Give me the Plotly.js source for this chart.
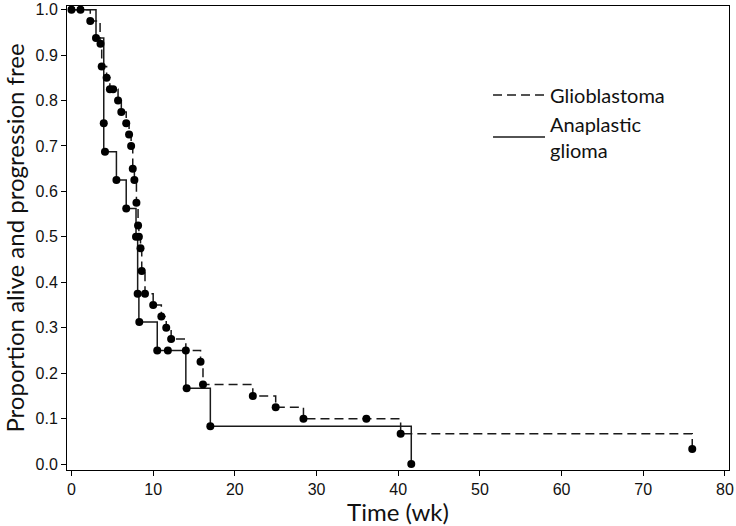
<!DOCTYPE html>
<html>
<head>
<meta charset="utf-8">
<script src="https://cdn.plot.ly/plotly-3.0.1.min.js"></script>
<style>html,body{margin:0;padding:0;background:#fff;}#chart{width:736px;height:526px;}</style>
</head>
<body>
<div id="chart"></div>
<script>
// Glioblastoma Kaplan-Meier step curve (weeks, proportion)
var glioStepT = [0, 2.3, 3.5, 3.7, 4.3, 4.7, 5.7, 6.1, 6.7, 7.05, 7.3, 7.5, 7.7, 7.95, 8.15, 8.25, 8.45, 8.6, 9.0, 10.0, 11.0, 11.6, 12.2, 14.0, 15.8, 16.1, 22.2, 25.0, 28.4, 40.3, 76.0];
var glioStepS = [1.0, 0.975, 0.925, 0.875, 0.85, 0.825, 0.80, 0.775, 0.75, 0.725, 0.70, 0.65, 0.625, 0.575, 0.525, 0.50, 0.475, 0.425, 0.375, 0.35, 0.325, 0.30, 0.275, 0.25, 0.225, 0.175, 0.15, 0.125, 0.10, 0.0667, 0.0333];
// Glioblastoma dots
var glioDotT = [0, 1.1, 2.3, 3.55, 3.7, 4.3, 4.7, 5.1, 5.7, 6.1, 6.7, 7.05, 7.3, 7.5, 7.7, 7.95, 8.15, 8.25, 8.45, 8.6, 9.0, 10.0, 11.0, 11.6, 12.2, 14.0, 15.8, 16.1, 22.2, 25.0, 28.4, 36.1, 40.3, 76.0];
var glioDotS = [1.0, 1.0, 0.975, 0.925, 0.875, 0.85, 0.825, 0.825, 0.80, 0.775, 0.75, 0.725, 0.70, 0.65, 0.625, 0.575, 0.525, 0.50, 0.475, 0.425, 0.375, 0.35, 0.325, 0.30, 0.275, 0.25, 0.225, 0.175, 0.15, 0.125, 0.10, 0.10, 0.0667, 0.0333];
// Anaplastic glioma Kaplan-Meier step curve
var anaStepT = [0, 3.0, 3.95, 5.5, 6.7, 7.9, 8.1, 8.25, 10.5, 14.0, 17.0, 41.6];
var anaStepS = [1.0, 0.9375, 0.6875, 0.625, 0.5625, 0.5, 0.375, 0.3125, 0.25, 0.1667, 0.0833, 0.0];
// Anaplastic glioma dots
var anaDotT = [3.0, 3.95, 4.1, 5.5, 6.7, 7.9, 8.1, 8.3, 10.5, 11.8, 14.1, 17.0, 41.6];
var anaDotS = [0.9375, 0.75, 0.6875, 0.625, 0.5625, 0.5, 0.375, 0.3125, 0.25, 0.25, 0.1667, 0.0833, 0.0];

var seriesNames = ['Glioblastoma', 'Anaplastic<br>glioma'];
var xTicks = [0, 10, 20, 30, 40, 50, 60, 70, 80];
var yTicks = [0, 0.1, 0.2, 0.3, 0.4, 0.5, 0.6, 0.7, 0.8, 0.9, 1.0];

var lineCol = '#1a1a1a';
var traces = [
  {x: glioStepT, y: glioStepS, mode: 'lines', name: seriesNames[0], line: {shape: 'hv', color: lineCol, width: 1.5, dash: '9px,5px'}},
  {x: anaStepT, y: anaStepS, mode: 'lines', name: seriesNames[1], line: {shape: 'hv', color: lineCol, width: 1.5}},
  {x: glioDotT, y: glioDotS, mode: 'markers', showlegend: false, marker: {color: '#000', size: 8}, hoverinfo: 'skip'},
  {x: anaDotT, y: anaDotS, mode: 'markers', showlegend: false, marker: {color: '#000', size: 8}, hoverinfo: 'skip'}
];

var layout = {
  width: 736, height: 526,
  margin: {l: 67, r: 7, t: 6, b: 56},
  paper_bgcolor: '#fff', plot_bgcolor: '#fff',
  showlegend: true,
  legend: {x: 0.636, y: 0.85, xanchor: 'left', yanchor: 'top', font: {family: 'Lato, Carlito, sans-serif', size: 20, color: '#111'}, bgcolor: 'rgba(0,0,0,0)', itemwidth: 52, tracegroupgap: 0},
  xaxis: {
    range: [-0.55, 80.5], tickvals: xTicks, ticktext: xTicks.map(String),
    showgrid: false, zeroline: false, showline: true, mirror: true, linecolor: '#000', linewidth: 1,
    ticks: 'outside', ticklen: 5, tickcolor: '#000',
    tickfont: {family: 'Liberation Sans, Arial, sans-serif', size: 16, color: '#111'},
    title: {text: 'Time (wk)', font: {family: 'Lato, Carlito, sans-serif', size: 24, color: '#111'}, standoff: 6}
  },
  yaxis: {
    range: [-0.013, 1.008], tickvals: yTicks, ticktext: yTicks.map(function(v){return v.toFixed(1);}),
    showgrid: false, zeroline: false, showline: true, mirror: true, linecolor: '#000', linewidth: 1,
    ticks: 'outside', ticklen: 5, tickcolor: '#000',
    tickfont: {family: 'Liberation Sans, Arial, sans-serif', size: 16, color: '#111'},
    title: {text: 'Proportion alive and progression free', font: {family: 'Lato, Carlito, sans-serif', size: 24, color: '#111'}, standoff: 5}
  }
};

Plotly.newPlot('chart', traces, layout, {displayModeBar: false, staticPlot: true});
</script>
</body>
</html>
